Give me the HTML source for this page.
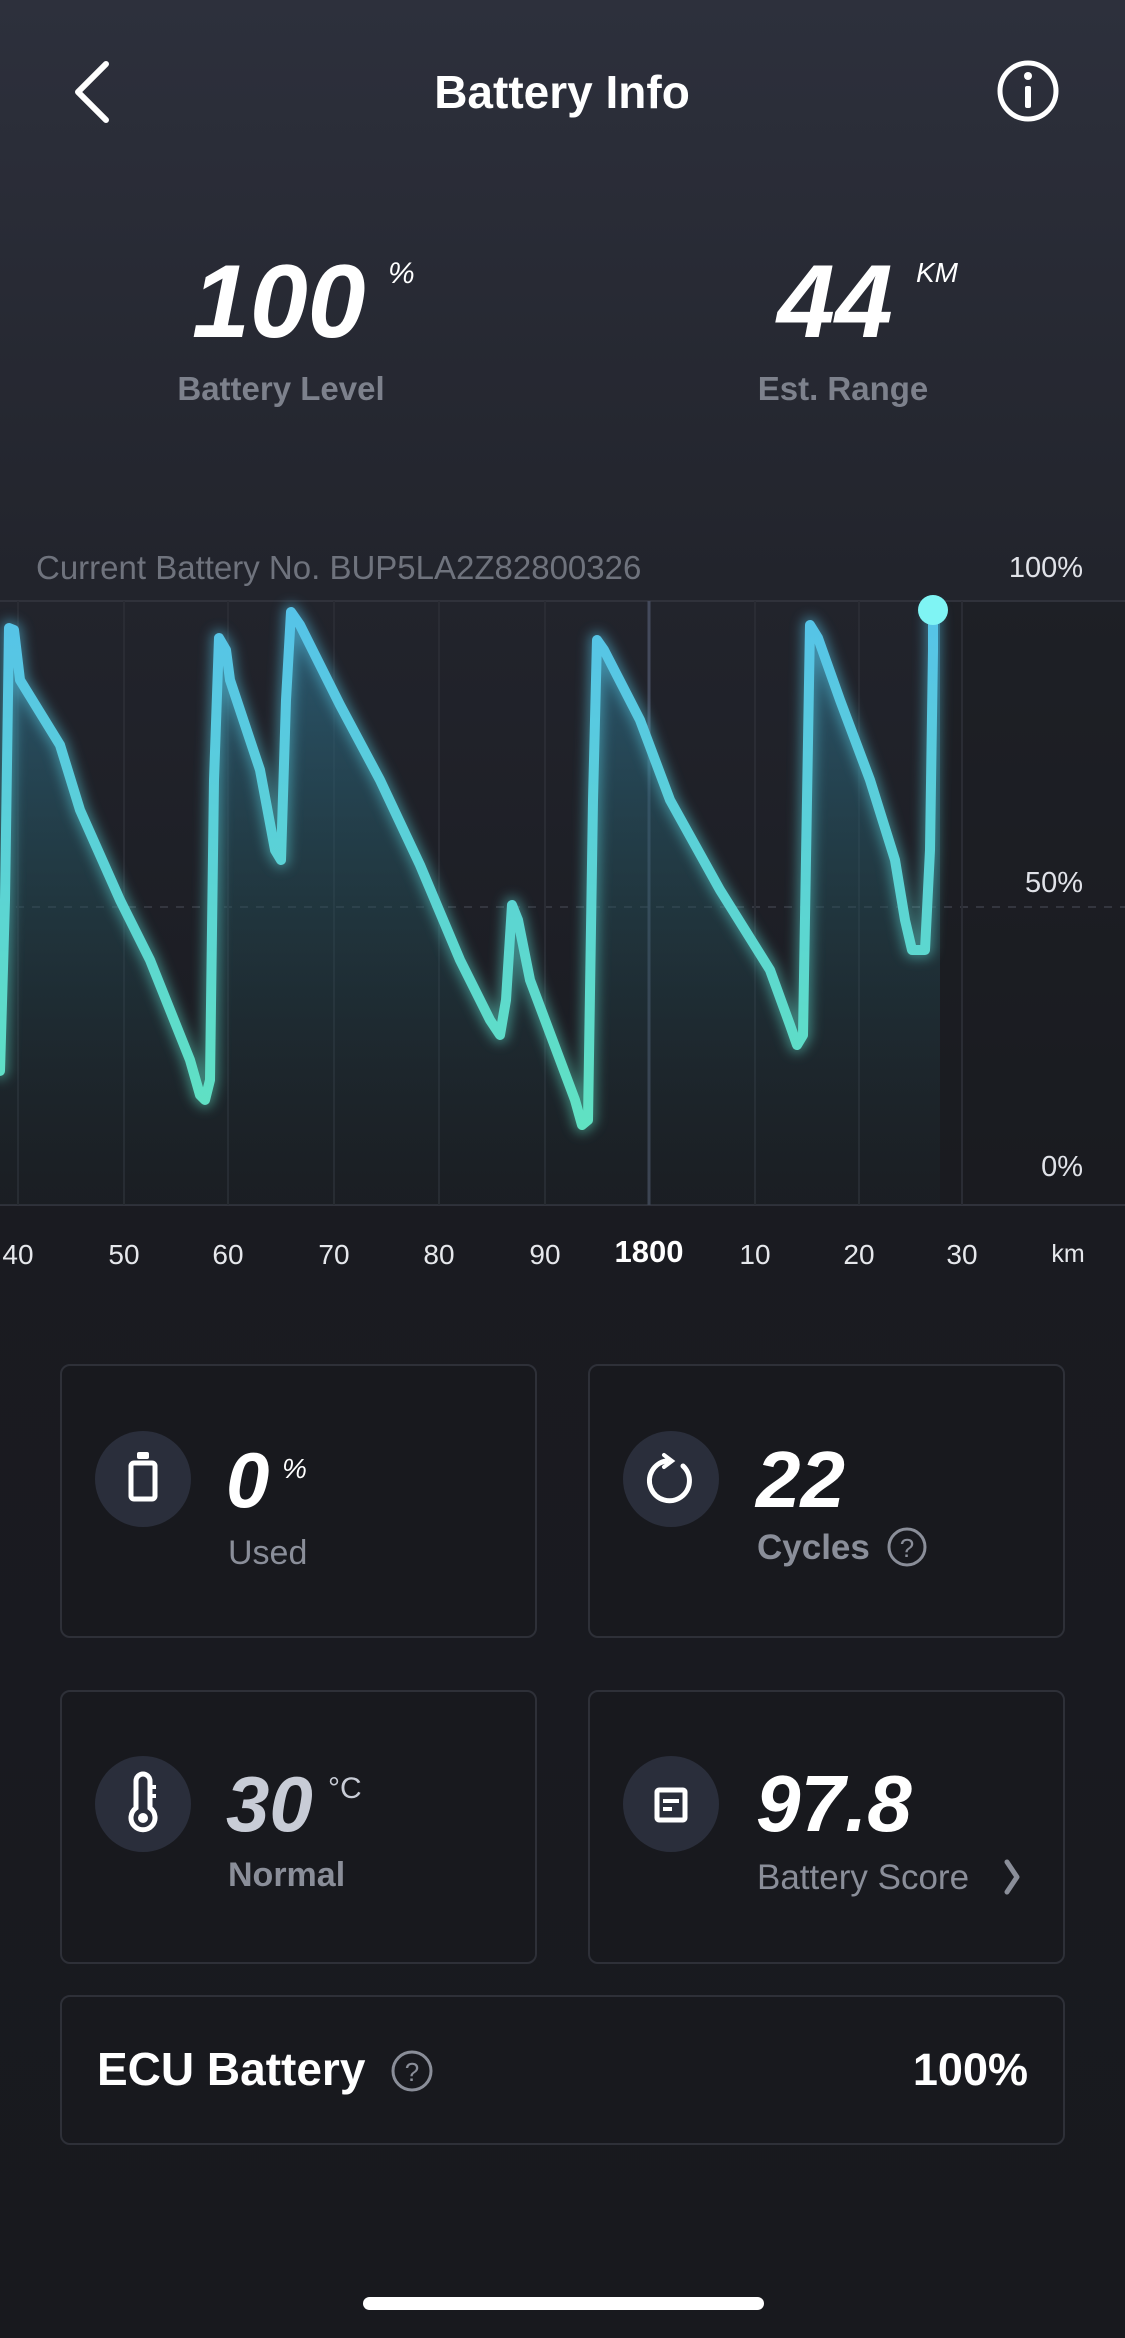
<!DOCTYPE html>
<html><head><meta charset="utf-8"><style>
html,body{margin:0;padding:0;background:#18191e;}
svg{display:block;font-family:"Liberation Sans",sans-serif;}
</style></head><body>
<svg width="1125" height="2338" viewBox="0 0 1125 2338" xmlns="http://www.w3.org/2000/svg">
<defs>
<linearGradient id="bg" gradientUnits="userSpaceOnUse" x1="0" y1="0" x2="0" y2="2338">
<stop offset="0" stop-color="#2d303c"/><stop offset="0.25" stop-color="#22242c"/><stop offset="0.5" stop-color="#1a1b21"/><stop offset="1" stop-color="#18191e"/>
</linearGradient>
<linearGradient id="ln" gradientUnits="userSpaceOnUse" x1="0" y1="610" x2="0" y2="1130">
<stop offset="0" stop-color="#56c3e8"/><stop offset="1" stop-color="#60e2c2"/>
</linearGradient>
<linearGradient id="ar" gradientUnits="userSpaceOnUse" x1="0" y1="620" x2="0" y2="1205">
<stop offset="0" stop-color="#2e6a86" stop-opacity="0.75"/><stop offset="0.5" stop-color="#24505a" stop-opacity="0.45"/><stop offset="1" stop-color="#1d2a2c" stop-opacity="0.2"/>
</linearGradient>
<filter id="gl" x="-10%" y="-10%" width="120%" height="120%"><feGaussianBlur stdDeviation="6"/></filter>
</defs>
<rect width="1125" height="2338" fill="url(#bg)"/>

<!-- header -->
<path d="M106 64 L78 92 L106 120" fill="none" stroke="#fff" stroke-width="6" stroke-linecap="round" stroke-linejoin="round"/>
<text x="562" y="108" text-anchor="middle" font-size="46" font-weight="bold" fill="#fff">Battery Info</text>
<circle cx="1028" cy="91" r="28" fill="none" stroke="#fff" stroke-width="5"/>
<rect x="1025" y="86" width="6" height="22" rx="2" fill="#fff"/><circle cx="1028" cy="76" r="4" fill="#fff"/>

<text x="192" y="337" font-size="104" font-weight="bold" font-style="italic" fill="#fff">100</text>
<text x="388" y="283" font-size="30" font-style="italic" fill="#fff">%</text>
<text x="281" y="400" text-anchor="middle" font-size="33" font-weight="bold" fill="#7d818c">Battery Level</text>
<text x="777" y="337" font-size="104" font-weight="bold" font-style="italic" fill="#fff">44</text>
<text x="916" y="282" font-size="28" font-style="italic" fill="#fff">KM</text>
<text x="843" y="400" text-anchor="middle" font-size="33" font-weight="bold" fill="#7d818c">Est. Range</text>

<!-- chart -->
<rect x="940" y="601" width="185" height="604" fill="#1a1b20" opacity="0.5"/>
<text x="36" y="579" font-size="33" fill="#6f737d">Current Battery No. BUP5LA2Z82800326</text>
<text x="1083" y="577" text-anchor="end" font-size="29" fill="#e0e2e8">100%</text>
<text x="1083" y="892" text-anchor="end" font-size="29" fill="#e0e2e8">50%</text>
<text x="1083" y="1176" text-anchor="end" font-size="29" fill="#e0e2e8">0%</text>
<line x1="0" y1="601" x2="1125" y2="601" stroke="#30323b" stroke-width="2"/>
<line x1="0" y1="1205" x2="1125" y2="1205" stroke="#30323b" stroke-width="2"/>
<line x1="0" y1="907" x2="1125" y2="907" stroke="#34363f" stroke-width="2" stroke-dasharray="8 8"/>
<g stroke="#2a2c34" stroke-width="2">
<line x1="18" y1="601" x2="18" y2="1205"/><line x1="124" y1="601" x2="124" y2="1205"/>
<line x1="228" y1="601" x2="228" y2="1205"/><line x1="334" y1="601" x2="334" y2="1205"/>
<line x1="439" y1="601" x2="439" y2="1205"/><line x1="545" y1="601" x2="545" y2="1205"/>
<line x1="755" y1="601" x2="755" y2="1205"/><line x1="859" y1="601" x2="859" y2="1205"/>
<line x1="962" y1="601" x2="962" y2="1205"/>
</g>
<line x1="649" y1="601" x2="649" y2="1205" stroke="#444a5c" stroke-width="3"/>
<path d="M0,1071 L5,900 L9,628 L14,630 L20,680 L60,745 L80,810 L120,900 L150,960 L190,1060 L200,1095 L205,1100 L210,1080 L214,780 L219,638 L226,650 L230,680 L260,770 L275,850 L281,860 L286,700 L291,612 L300,625 L340,705 L380,780 L420,865 L460,960 L490,1020 L500,1035 L506,1000 L512,905 L518,920 L530,980 L560,1060 L575,1100 L582,1125 L588,1120 L593,800 L597,640 L604,650 L640,720 L670,800 L720,890 L770,970 L790,1025 L797,1045 L803,1035 L807,800 L810,625 L818,638 L840,700 L870,780 L895,860 L905,920 L912,950 L925,950 L930,850 L933,650 L933,612 L940,612 L940,1205 L0,1205 Z" fill="url(#ar)"/>
<g fill="none" stroke-linejoin="round" stroke-linecap="round">
<path d="M0,1071 L5,900 L9,628 L14,630 L20,680 L60,745 L80,810 L120,900 L150,960 L190,1060 L200,1095 L205,1100 L210,1080 L214,780 L219,638 L226,650 L230,680 L260,770 L275,850 L281,860 L286,700 L291,612 L300,625 L340,705 L380,780 L420,865 L460,960 L490,1020 L500,1035 L506,1000 L512,905 L518,920 L530,980 L560,1060 L575,1100 L582,1125 L588,1120 L593,800 L597,640 L604,650 L640,720 L670,800 L720,890 L770,970 L790,1025 L797,1045 L803,1035 L807,800 L810,625 L818,638 L840,700 L870,780 L895,860 L905,920 L912,950 L925,950 L930,850 L933,650 L933,612" stroke="url(#ln)" stroke-width="16" opacity="0.5" filter="url(#gl)"/>
<path d="M0,1071 L5,900 L9,628 L14,630 L20,680 L60,745 L80,810 L120,900 L150,960 L190,1060 L200,1095 L205,1100 L210,1080 L214,780 L219,638 L226,650 L230,680 L260,770 L275,850 L281,860 L286,700 L291,612 L300,625 L340,705 L380,780 L420,865 L460,960 L490,1020 L500,1035 L506,1000 L512,905 L518,920 L530,980 L560,1060 L575,1100 L582,1125 L588,1120 L593,800 L597,640 L604,650 L640,720 L670,800 L720,890 L770,970 L790,1025 L797,1045 L803,1035 L807,800 L810,625 L818,638 L840,700 L870,780 L895,860 L905,920 L912,950 L925,950 L930,850 L933,650 L933,612" stroke="url(#ln)" stroke-width="10"/>
</g>
<circle cx="933" cy="610" r="15" fill="#7ff4f4"/>
<g font-size="28" fill="#e6e8ec" text-anchor="middle">
<text x="18" y="1264">40</text><text x="124" y="1264">50</text><text x="228" y="1264">60</text>
<text x="334" y="1264">70</text><text x="439" y="1264">80</text><text x="545" y="1264">90</text>
<text x="649" y="1262" font-weight="bold" font-size="31" fill="#fff">1800</text>
<text x="755" y="1264">10</text><text x="859" y="1264">20</text><text x="962" y="1264">30</text>
<text x="1068" y="1262" font-size="25">km</text>
</g>

<!-- cards -->
<g fill="#18191e" stroke="#2e3038" stroke-width="2">
<rect x="61" y="1365" width="475" height="272" rx="9"/>
<rect x="589" y="1365" width="475" height="272" rx="9"/>
<rect x="61" y="1691" width="475" height="272" rx="9"/>
<rect x="589" y="1691" width="475" height="272" rx="9"/>
<rect x="61" y="1996" width="1003" height="148" rx="9"/>
</g>
<g fill="#2a2e3b">
<circle cx="143" cy="1479" r="48"/><circle cx="671" cy="1479" r="48"/>
<circle cx="143" cy="1804" r="48"/><circle cx="671" cy="1804" r="48"/>
</g>
<!-- icons -->
<rect x="131" y="1463" width="24" height="36" rx="3" fill="none" stroke="#fff" stroke-width="5"/>
<rect x="137" y="1452" width="12" height="7" rx="2" fill="#fff"/>
<path d="M683 1466 A20 20 0 1 1 666 1461" fill="none" stroke="#fff" stroke-width="5" stroke-linecap="round"/>
<path d="M664 1455 L672 1461 L664 1467" fill="none" stroke="#fff" stroke-width="4" stroke-linecap="round"/>
<path d="M136 1808 V1781 a7 7 0 0 1 14 0 V1808 a12 12 0 1 1 -14 0 Z" fill="none" stroke="#fff" stroke-width="5"/>
<circle cx="143" cy="1818" r="5" fill="#fff"/>
<line x1="150" y1="1787" x2="156" y2="1787" stroke="#fff" stroke-width="4"/><line x1="150" y1="1796" x2="156" y2="1796" stroke="#fff" stroke-width="4"/>
<rect x="657" y="1790" width="28" height="30" rx="2" fill="none" stroke="#fff" stroke-width="5"/>
<rect x="663" y="1799" width="16" height="4" fill="#fff"/><rect x="663" y="1807" width="9" height="4" fill="#fff"/>

<text x="226" y="1507" font-size="78" font-weight="bold" font-style="italic" fill="#fff">0</text>
<text x="282" y="1478" font-size="28" font-style="italic" fill="#fff">%</text>
<text x="228" y="1564" font-size="34" fill="#8a8e99">Used</text>
<text x="756" y="1507" font-size="80" font-weight="bold" font-style="italic" fill="#fff">22</text>
<text x="757" y="1559" font-size="35" font-weight="bold" fill="#8a8e99">Cycles</text>
<circle cx="907" cy="1547" r="18" fill="none" stroke="#8a8e99" stroke-width="3"/>
<text x="907" y="1557" text-anchor="middle" font-size="26" fill="#8a8e99">?</text>
<text x="226" y="1831" font-size="78" font-weight="bold" font-style="italic" fill="#c8ccd6">30</text>
<text x="328" y="1798" font-size="30" fill="#c8ccd6">°C</text>
<text x="228" y="1886" font-size="34" font-weight="bold" fill="#8a8e99">Normal</text>
<text x="756" y="1831" font-size="80" font-weight="bold" font-style="italic" fill="#fff">97.8</text>
<text x="757" y="1889" font-size="35" fill="#8a8e99">Battery Score</text>
<path d="M1007 1862 L1017 1877 L1007 1892" fill="none" stroke="#8a8e99" stroke-width="5" stroke-linecap="round" stroke-linejoin="round"/>

<text x="97" y="2085" font-size="46" font-weight="bold" fill="#fff">ECU Battery</text>
<circle cx="412" cy="2071" r="19" fill="none" stroke="#8a8e99" stroke-width="3"/>
<text x="412" y="2081" text-anchor="middle" font-size="26" fill="#8a8e99">?</text>
<text x="1028" y="2085" text-anchor="end" font-size="45" font-weight="bold" fill="#fff">100%</text>

<rect x="363" y="2297" width="401" height="13" rx="6.5" fill="#fff"/>
</svg>
</body></html>
